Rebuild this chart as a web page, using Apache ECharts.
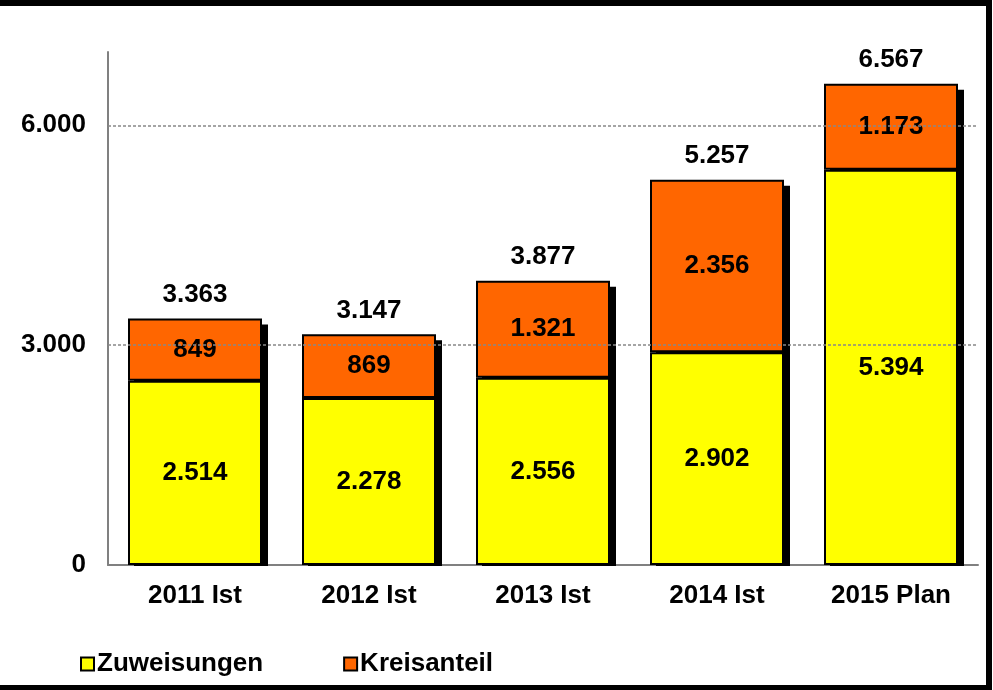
<!DOCTYPE html>
<html>
<head>
<meta charset="utf-8">
<script src="https://cdn.jsdelivr.net/npm/echarts@6/dist/echarts.min.js"></script>
<style>
  html, body { margin: 0; padding: 0; background: #fff; }
  #main { width: 993px; height: 690px; }
</style>
</head>
<body>
<div id="main"></div>
<script>
var years = ['2011 Ist', '2012 Ist', '2013 Ist', '2014 Ist', '2015 Plan'];
var zuweisungen = [2514, 2278, 2556, 2902, 5394];
var kreisanteil = [849, 869, 1321, 2356, 1173];
var totals = [3363, 3147, 3877, 5257, 6567];
var gridLines = [3000, 6000];

var font = '"Liberation Sans", Arial, sans-serif';
var barW = 134;

function fmt(v) {
    return String(v).replace(/\B(?=(\d{3})+(?!\d))/g, '.');
}

var chart = echarts.init(document.getElementById('main'));

var segLabel = {
    show: true,
    position: 'inside',
    color: '#000',
    fontFamily: font,
    fontWeight: 'bold',
    fontSize: 26,
    formatter: function (p) { return fmt(p.value); }
};

// black drop shadow behind each stacked bar
function renderShadow(params, api) {
    var top = api.coord([api.value(0), api.value(1)]);
    var base = api.coord([api.value(0), 0]);
    return {
        type: 'rect',
        shape: { x: top[0] - barW / 2 + 6, y: top[1] + 6, width: barW, height: base[1] - top[1] - 5 },
        style: { fill: '#000' }
    };
}

var opt = {
    animation: false,
    grid: { left: 108, right: 15, top: 52, bottom: 125 },
    legend: {
        left: 75,
        top: 646,
        itemWidth: 13,
        itemHeight: 13,
        itemGap: 80,
        icon: 'rect',
        data: ['Zuweisungen', 'Kreisanteil'],
        textStyle: { color: '#000', fontFamily: font, fontWeight: 'bold', fontSize: 26, padding: [0, 0, 0, -2] }
    },
    xAxis: {
        type: 'category',
        data: years,
        axisLine: { lineStyle: { color: '#808080', width: 2 } },
        axisTick: { show: false },
        axisLabel: { color: '#000', fontFamily: font, fontWeight: 'bold', fontSize: 26, margin: 18 }
    },
    yAxis: {
        type: 'value',
        min: 0,
        max: 7000,
        interval: 3000,
        axisLine: { show: true, lineStyle: { color: '#808080', width: 2 } },
        axisTick: { show: false },
        splitLine: { show: false },
        axisLabel: {
            color: '#000', fontFamily: font, fontWeight: 'bold', fontSize: 26, margin: 22,
            showMaxLabel: false,
            formatter: function (v) { return fmt(v); }
        }
    },
    graphic: [{
        type: 'rect',
        shape: { x: -10, y: 3, width: 999, height: 685 },
        style: { fill: 'none', stroke: '#000', lineWidth: 6 },
        silent: true
    }],
    series: [
        {
            name: 'Schatten',
            type: 'custom',
            z: 1,
            renderItem: renderShadow,
            encode: { x: 0, y: 1 },
            data: totals.map(function (v, i) { return [i, v]; }),
            markLine: {
                silent: true,
                symbol: 'none',
                label: { show: false },
                lineStyle: { color: '#888', type: [3, 2], width: 1.5 },
                data: gridLines.map(function (v) { return { yAxis: v }; })
            }
        },
        {
            name: 'Zuweisungen',
            type: 'bar',
            stack: 'a',
            z: 3,
            barWidth: barW,
            data: zuweisungen,
            itemStyle: { color: '#FFFF00', borderColor: '#000', borderWidth: 2 },
            label: segLabel
        },
        {
            name: 'Kreisanteil',
            type: 'bar',
            stack: 'a',
            z: 3,
            barWidth: barW,
            data: kreisanteil,
            itemStyle: { color: '#FF6600', borderColor: '#000', borderWidth: 2 },
            label: segLabel
        },
        {
            name: 'Summe',
            type: 'bar',
            stack: 'a',
            z: 4,
            barWidth: barW,
            data: totals.map(function () { return 0; }),
            itemStyle: { color: 'transparent' },
            label: {
                show: true,
                position: 'top',
                distance: 11,
                color: '#000',
                fontFamily: font,
                fontWeight: 'bold',
                fontSize: 26,
                formatter: function (p) { return fmt(totals[p.dataIndex]); }
            }
        }
    ]
};

chart.setOption(opt);
</script>
</body>
</html>
